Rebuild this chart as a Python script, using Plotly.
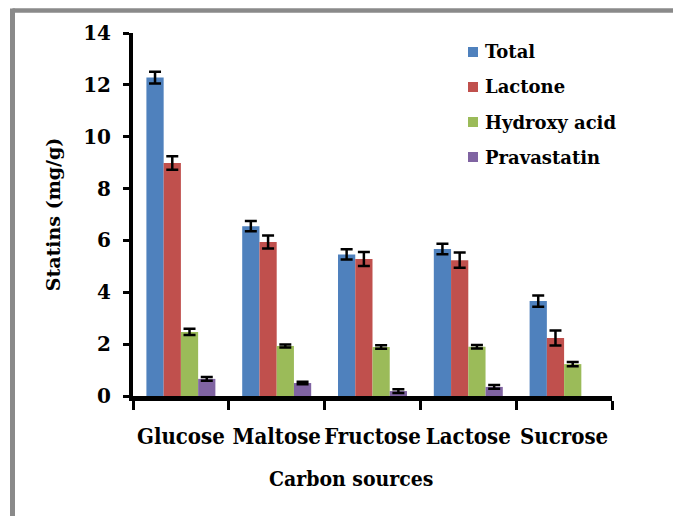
import plotly.graph_objects as go

# Statin production by carbon source (mg/g)
categories = ["Glucose", "Maltose", "Fructose", "Lactose", "Sucrose"]

total = [12.28, 6.55, 5.46, 5.67, 3.66]
total_err = [0.23, 0.20, 0.20, 0.20, 0.22]

lactone = [8.99, 5.94, 5.28, 5.24, 2.24]
lactone_err = [0.26, 0.25, 0.27, 0.29, 0.29]

hydroxy_acid = [2.47, 1.93, 1.89, 1.90, 1.23]
hydroxy_acid_err = [0.12, 0.06, 0.07, 0.07, 0.085]

pravastatin = [0.66, 0.50, 0.19, 0.35, None]
pravastatin_err = [0.07, 0.05, 0.07, 0.07, None]

y_ticks = [0, 2, 4, 6, 8, 10, 12, 14]

series_names = ["Total", "Lactone", "Hydroxy acid", "Pravastatin"]
series_colors = ["#4F81BD", "#C0504D", "#9BBB59", "#8064A2"]
series_values = [total, lactone, hydroxy_acid, pravastatin]
series_errors = [total_err, lactone_err, hydroxy_acid_err, pravastatin_err]

SERIF = "DejaVu Serif"
SERIF_NARROW = "DejaVu Serif Condensed"

fig = go.Figure()
for name, vals, errs, color in zip(series_names, series_values,
                                   series_errors, series_colors):
    fig.add_trace(go.Bar(
        name=name,
        x=categories,
        y=vals,
        marker=dict(color=color, line=dict(width=0)),
        error_y=dict(type="data", array=errs, visible=True,
                     color="black", thickness=2.5, width=6),
        showlegend=False,
    ))

W, H = 673, 516
L, R, T, B = 133, 61, 33, 120

def px_x(p):
    return (p - L) / (W - L - R)

def px_y(p):
    return (H - B - p) / (H - T - B)

# gray frame along the top and left edges of the figure
shapes = [
    dict(type="line", xref="paper", yref="paper",
         x0=px_x(12.5), x1=px_x(700), y0=px_y(10.5), y1=px_y(10.5),
         line=dict(color="#8a8a8a", width=4.5), layer="above"),
    dict(type="line", xref="paper", yref="paper",
         x0=px_x(12.5), x1=px_x(12.5), y0=px_y(8.5), y1=px_y(540),
         line=dict(color="#8a8a8a", width=5), layer="above"),
]
annotations = [
    dict(text="Carbon sources", xref="paper", yref="paper",
         x=px_x(351), y=px_y(478), xanchor="center", yanchor="middle",
         showarrow=False,
         font=dict(family=SERIF_NARROW, size=21, weight="bold", color="black")),
]

# legend: colour key squares with series names beside them
for i, (name, color) in enumerate(zip(series_names, series_colors)):
    cy = 52 + 35 * i
    shapes.append(dict(type="rect", xref="paper", yref="paper",
                       x0=px_x(468), x1=px_x(478),
                       y0=px_y(cy - 5), y1=px_y(cy + 5),
                       fillcolor=color, line=dict(width=0)))
    annotations.append(dict(text=name, xref="paper", yref="paper",
                            x=px_x(483), y=px_y(cy), xanchor="left",
                            yanchor="middle", showarrow=False,
                            font=dict(family=SERIF, size=18, weight="bold",
                                      color="black")))

fig.update_layout(
    width=W, height=H,
    margin=dict(l=L, r=R, t=T, b=B, pad=0, autoexpand=False),
    paper_bgcolor="white",
    plot_bgcolor="white",
    barmode="group",
    bargap=0.28,
    bargroupgap=0,
    font=dict(family=SERIF, color="black"),
    showlegend=False,
    xaxis=dict(
        type="category",
        range=[-0.5, 4.5],
        automargin=False,
        showline=True, linecolor="black", linewidth=5,
        ticks="outside", tickson="boundaries", ticklen=9, tickwidth=3,
        tickcolor="black", tickangle=0,
        tickfont=dict(family=SERIF_NARROW, size=22, weight="bold"),
        ticklabelstandoff=17,
        showgrid=False, zeroline=False,
    ),
    yaxis=dict(
        range=[0, 14],
        tickvals=y_ticks,
        automargin=False,
        showline=True, linecolor="black", linewidth=4,
        ticks="outside", ticklen=6, tickwidth=3, tickcolor="black",
        tickfont=dict(family=SERIF, size=20, weight="bold"),
        ticklabelstandoff=8,
        showgrid=False, zeroline=False,
        title=dict(text="Statins (mg/g)",
                   font=dict(family=SERIF, size=19, weight="bold"),
                   standoff=19),
    ),
    shapes=shapes,
    annotations=annotations,
)

fig.write_html("out.html")
